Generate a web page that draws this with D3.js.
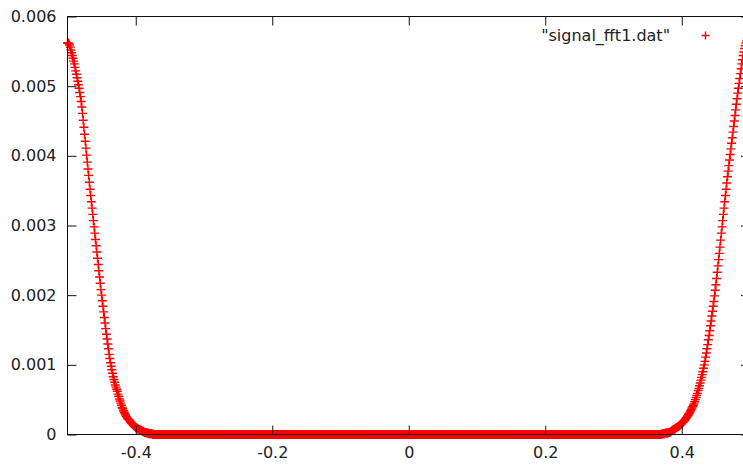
<!DOCTYPE html>
<html>
<head>
<meta charset="utf-8">
<script src="https://cdn.jsdelivr.net/npm/d3@7"></script>
<style>
  body { margin: 0; background: #fff; }
  svg { display: block; overflow: hidden; }
  text { font-family: "DejaVu Sans", sans-serif; font-size: 16px; fill: #222; }
</style>
</head>
<body>
<div id="chart"></div>
<script>
// FFT bins: -0.500 .. 0.499, step 0.001
const freqStart = -0.5;
const freqStep = 0.001;

// left wing, bins -0.500 .. -0.376
const leftWing = [
  0.00562, 0.00562, 0.00561, 0.00559, 0.00556, 0.00552, 0.00548, 0.00544, 0.00540, 0.00536, 0.00532,
  0.00527, 0.00522, 0.00517, 0.00512, 0.00507, 0.00502, 0.00497, 0.00491, 0.00485, 0.00478,
  0.00470, 0.00461, 0.00451, 0.00441, 0.00431, 0.00421, 0.00411, 0.00401, 0.00391, 0.00381,
  0.00372, 0.00362, 0.00352, 0.00343, 0.00334, 0.00325, 0.00316, 0.00307, 0.00298, 0.00289,
  0.00280, 0.00271, 0.00262, 0.00253, 0.00244, 0.00235, 0.00226, 0.00217, 0.00208, 0.00200,
  0.00192, 0.00184, 0.00176, 0.00168, 0.00160, 0.00152, 0.00144, 0.00137, 0.00130, 0.00123,
  0.00115, 0.00109, 0.00103, 0.00098, 0.00093, 0.00088, 0.00083, 0.00079, 0.00075, 0.00071,
  0.00068, 0.00065, 0.00062, 0.00058, 0.00055, 0.00051, 0.00048, 0.00045, 0.00042, 0.00039,
  0.00037, 0.00034, 0.00032, 0.00030, 0.00028, 0.00026, 0.00025, 0.00023, 0.00022, 0.00021,
  0.00020, 0.00018, 0.00017, 0.00016, 0.00015, 0.00014, 0.00013, 0.00012, 0.00011, 0.00010,
  0.00010, 0.00009, 0.00008, 0.00008, 0.00007, 0.00007, 0.00006, 0.00006, 0.00005, 0.00005,
  0.00004, 0.00004, 0.00003, 0.00003, 0.00003, 0.00002, 0.00002, 0.00002, 0.00001, 0.00001,
  0.00001, 0.00001, 0.00001, 0.00001
];

// flat part, bins -0.375 .. 0.369, all read as 0
const flatBins = 745;
const flatValue = 0;

// right wing, bins 0.370 .. 0.499
const rightWing = [
  0.00000, 0.00001, 0.00001, 0.00001, 0.00001, 0.00001, 0.00002, 0.00002, 0.00002, 0.00002,
  0.00002, 0.00003, 0.00003, 0.00004, 0.00004, 0.00005, 0.00006, 0.00006, 0.00007, 0.00008,
  0.00008, 0.00009, 0.00010, 0.00010, 0.00011, 0.00012, 0.00012, 0.00013, 0.00014, 0.00015,
  0.00016, 0.00017, 0.00018, 0.00019, 0.00020, 0.00021, 0.00023, 0.00024, 0.00026, 0.00027,
  0.00029, 0.00030, 0.00032, 0.00034, 0.00036, 0.00038, 0.00040, 0.00042, 0.00044, 0.00047,
  0.00050, 0.00053, 0.00056, 0.00059, 0.00063, 0.00066, 0.00070, 0.00074, 0.00078, 0.00082,
  0.00086, 0.00090, 0.00095, 0.00100, 0.00105, 0.00111, 0.00117, 0.00123, 0.00129, 0.00136,
  0.00142, 0.00149, 0.00156, 0.00163, 0.00170, 0.00177, 0.00184, 0.00191, 0.00199, 0.00207,
  0.00215, 0.00224, 0.00233, 0.00242, 0.00251, 0.00260, 0.00269, 0.00279, 0.00289, 0.00298,
  0.00307, 0.00316, 0.00325, 0.00334, 0.00343, 0.00352, 0.00361, 0.00370, 0.00378, 0.00386,
  0.00394, 0.00402, 0.00410, 0.00418, 0.00426, 0.00434, 0.00442, 0.00450, 0.00458, 0.00466,
  0.00474, 0.00482, 0.00490, 0.00497, 0.00504, 0.00511, 0.00518, 0.00525, 0.00532, 0.00538,
  0.00544, 0.00549, 0.00554, 0.00558, 0.00562, 0.00565, 0.00568, 0.00570, 0.00572, 0.00574
];

const xTicks = [-0.4, -0.2, 0, 0.2, 0.4];
const yTicks = [0, 0.001, 0.002, 0.003, 0.004, 0.005, 0.006];
const seriesName = '"signal_fft1.dat"';

const W = 743, H = 466;
const padL = 67.5, padR = 750, padT = 16.5, padB = 434.5;
const tickLen = 9;

var values = leftWing.concat(d3.range(flatBins).map(function() { return flatValue; }), rightWing);
var data = values.map(function(v, i) { return { f: +(freqStart + i * freqStep).toFixed(3), v: v }; });

var x = d3.scaleLinear().domain([-0.5, 0.5]).range([padL, padR]);
var y = d3.scaleLinear().domain([0, 0.006]).range([padB, padT]);

var fmtX = function(d) { return d === 0 ? "0" : d3.format(".1f")(d).replace("\u2212", "-"); };
var fmtY = function(d) { return d === 0 ? "0" : d3.format(".3f")(d); };

var svg = d3.select("#chart").append("svg")
  .attr("width", W)
  .attr("height", H);

var plus = "M-4.5,0H4.5M0,-4.5V4.5";

// points
svg.append("g")
  .selectAll("path")
  .data(data)
  .enter()
  .append("path")
    .attr("transform", function(d) { return "translate(" + x(d.f) + "," + y(d.v) + ")"; })
    .attr("d", plus)
    .style("fill", "none")
    .style("stroke", "#ff0000")
    .style("stroke-width", 1.4);

// border + ticks (mirrored like gnuplot)
var axisColor = "#111";
var xBottom = d3.axisBottom(x).tickValues(xTicks).tickSize(-tickLen).tickPadding(12).tickFormat(fmtX);
var xTop = d3.axisTop(x).tickValues(xTicks).tickSize(-tickLen).tickFormat("");
var yLeft = d3.axisLeft(y).tickValues(yTicks).tickSize(-tickLen).tickPadding(11).tickFormat(fmtY);
var yRight = d3.axisRight(y).tickValues(yTicks).tickSize(-tickLen).tickFormat("");

svg.append("g").attr("transform", "translate(0," + padB + ")").call(xBottom);
svg.append("g").attr("transform", "translate(0," + padT + ")").call(xTop);
svg.append("g").attr("transform", "translate(" + padL + ",0)").call(yLeft);
svg.append("g").attr("transform", "translate(" + padR + ",0)").call(yRight);

svg.selectAll(".domain").remove();
svg.selectAll(".tick line").style("stroke", axisColor);
svg.selectAll(".tick text")
  .style("font-family", "'DejaVu Sans', sans-serif")
  .style("font-size", "16px")
  .style("fill", "#222");

svg.append("rect")
  .attr("x", padL)
  .attr("y", padT)
  .attr("width", padR - padL)
  .attr("height", padB - padT)
  .style("fill", "none")
  .style("stroke", axisColor)
  .style("stroke-width", 1);

// key
svg.append("text")
  .attr("x", 670)
  .attr("y", 35)
  .attr("dy", "0.35em")
  .attr("text-anchor", "end")
  .text(seriesName);

svg.append("path")
  .attr("transform", "translate(705.5,35.5)")
  .attr("d", "M-4,0H4M0,-4V4")
  .style("fill", "none")
  .style("stroke", "#ff0000")
  .style("stroke-width", 1.4);
</script>
</body>
</html>
